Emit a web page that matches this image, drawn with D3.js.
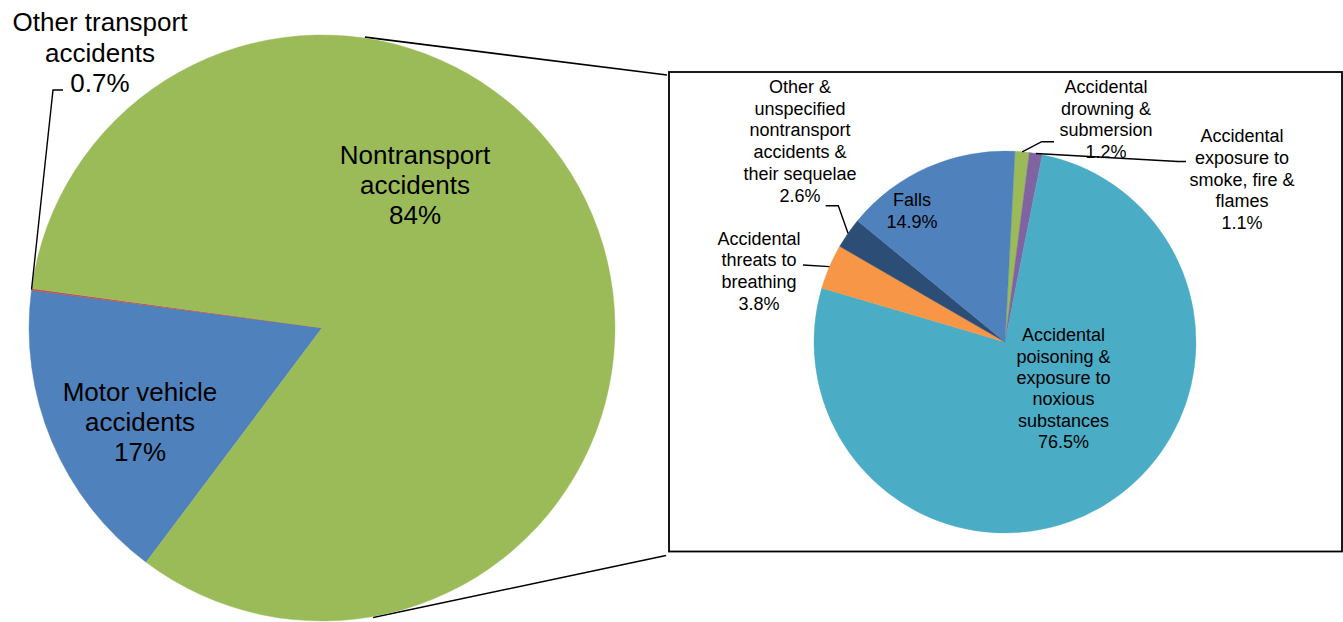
<!DOCTYPE html>
<html><head><meta charset="utf-8">
<script src="https://cdn.jsdelivr.net/npm/d3@7"></script>
<style>
body{margin:0;background:#fff}
svg text{font-family:"Liberation Sans",Arial,Helvetica,sans-serif;fill:#000}
</style>
</head><body>
<svg id="chart" width="1343" height="622"></svg>
<script>
// ---- data ----
const mainCategories = ["Motor vehicle accidents", "Other transport accidents", "Nontransport accidents"];
const mainValues = [16.8, 0.1, 83.1];
const mainLabels = [["Motor vehicle", "accidents", "17%"], ["Other transport", "accidents", "0.7%"], ["Nontransport", "accidents", "84%"]];
const mainColors = ["#4F81BD", "#C0504D", "#9BBB59"];

const subCategories = [
  "Accidental drowning & submersion",
  "Accidental exposure to smoke, fire & flames",
  "Accidental poisoning & exposure to noxious substances",
  "Accidental threats to breathing",
  "Other & unspecified nontransport accidents & their sequelae",
  "Falls"
];
const subValues = [1.2, 1.1, 76.5, 3.8, 2.6, 14.9];
const subLabels = [
  ["Accidental", "drowning &", "submersion", "1.2%"],
  ["Accidental", "exposure to", "smoke, fire &", "flames", "1.1%"],
  ["Accidental", "poisoning &", "exposure to", "noxious", "substances", "76.5%"],
  ["Accidental", "threats to", "breathing", "3.8%"],
  ["Other &", "unspecified", "nontransport", "accidents &", "their sequelae", "2.6%"],
  ["Falls", "14.9%"]
];
const subColors = ["#9BBB59", "#8064A2", "#4BACC6", "#F79646", "#2C4D75", "#4F81BD"];

// ---- layout ----
const deg = Math.PI / 180;
const mainC = {x: 322, y: 328, r: 293, start: 216.9 * deg};
const subC = {x: 1005, y: 342, r: 191, start: 3.0 * deg};
const box = {x: 669, y: 72, w: 673, h: 479.5};

const mainLabelPos = [{x: 140, y: 391.7, lh: 30}, {x: 100, y: 22, lh: 30.5}, {x: 415, y: 155, lh: 30}];
const subLabelPos = [
  {x: 1106, y: 87, lh: 21.5},
  {x: 1242, y: 136, lh: 21.6},
  {x: 1063.5, y: 335, lh: 21.3},
  {x: 759, y: 238.3, lh: 21.7},
  {x: 800, y: 86.7, lh: 21.7},
  {x: 912, y: 200, lh: 21.7}
];
// leader line start points (label side) for small slices; end computed from slice
const mainLeaders = {1: [[63, 90], [53, 90]]};
const subLeaders = {
  0: [[1054, 141.7], [1041.7, 141.7]],
  1: [[1186, 161.5], [1178, 161.5]],
  3: [[803, 265]],
  4: [[825.7, 205.7], [838.3, 205.7]]
};

const svg = d3.select("#chart");

function polar(c, r, a) { return [c.x + r * Math.sin(a), c.y - r * Math.cos(a)]; }

function drawPie(c, values, colors, labels, labelPos, leaders, fontSize) {
  const pie = d3.pie().sort(null).value(d => d)
    .startAngle(c.start).endAngle(c.start + 2 * Math.PI);
  const arcs = pie(values);
  const arc = d3.arc().innerRadius(0).outerRadius(c.r);
  const g = svg.append("g").attr("transform", `translate(${c.x},${c.y})`);
  g.selectAll("path").data(arcs).join("path")
    .attr("d", arc)
    .attr("fill", (d, i) => colors[i])
    .attr("stroke", (d, i) => colors[i])
    .attr("stroke-width", 0.4);

  // leaders
  Object.keys(leaders).forEach(k => {
    const a = arcs[+k];
    const mid = (a.startAngle + a.endAngle) / 2;
    const pts = leaders[k].concat([polar(c, c.r, mid)]);
    svg.append("path")
      .attr("d", d3.line()(pts))
      .attr("fill", "none").attr("stroke", "#000").attr("stroke-width", 1.4);
  });

  // labels
  labels.forEach((lines, i) => {
    const p = labelPos[i];
    const t = svg.append("text")
      .attr("text-anchor", "middle")
      .attr("font-size", fontSize + "px");
    lines.forEach((ln, j) => {
      t.append("tspan").attr("x", p.x).attr("y", p.y + j * p.lh).attr("dy", "0.35em").text(ln);
    });
  });
  return arcs;
}

// connector lines from main pie to box
const topPt = polar(mainC, mainC.r + 1, 8.4 * deg);
const botPt = polar(mainC, mainC.r + 1, 170 * deg);
svg.append("line").attr("x1", topPt[0]).attr("y1", topPt[1]).attr("x2", box.x - 2).attr("y2", box.y + 3)
  .attr("stroke", "#000").attr("stroke-width", 1.6);
svg.append("line").attr("x1", botPt[0]).attr("y1", botPt[1]).attr("x2", box.x - 3).attr("y2", box.y + box.h + 4)
  .attr("stroke", "#000").attr("stroke-width", 1.6);

svg.append("rect").attr("x", box.x).attr("y", box.y).attr("width", box.w).attr("height", box.h)
  .attr("fill", "#fff").attr("stroke", "#000").attr("stroke-width", 1.8);

drawPie(mainC, mainValues, mainColors, mainLabels, mainLabelPos, mainLeaders, 26);
drawPie(subC, subValues, subColors, subLabels, subLabelPos, subLeaders, 18);
</script>
</body></html>
